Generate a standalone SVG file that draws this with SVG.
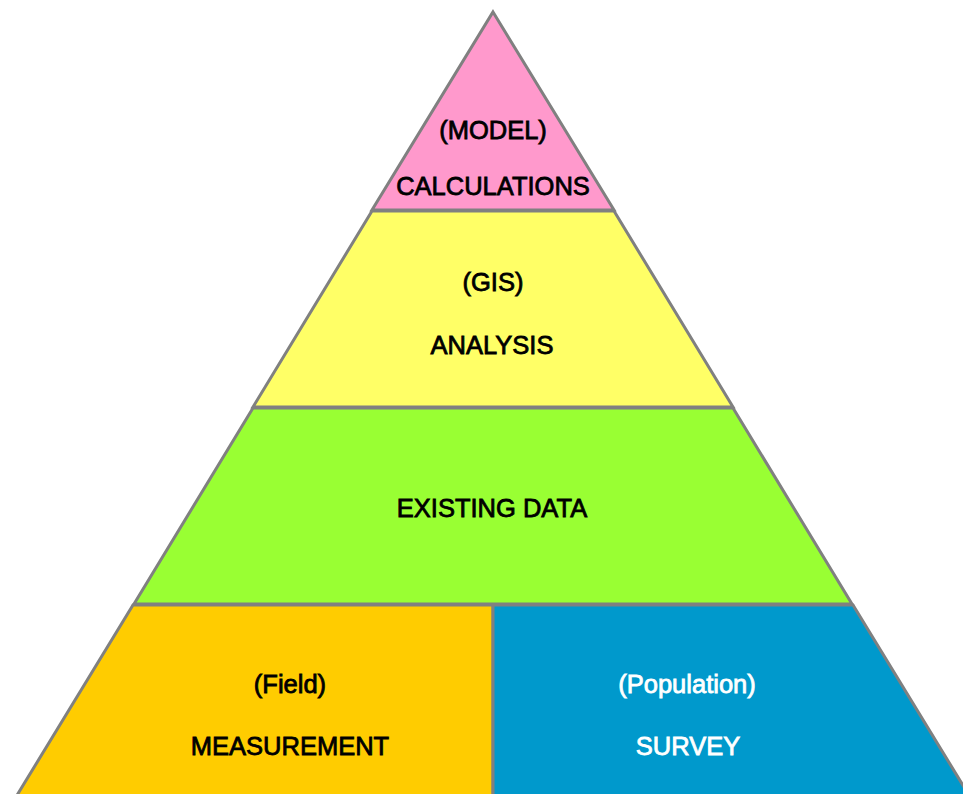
<svg xmlns="http://www.w3.org/2000/svg" width="963" height="794" viewBox="0 0 963 794">
<style>
.l{stroke:#808080;stroke-width:3;stroke-linejoin:miter}
.t{font-family:"Liberation Sans",Arial,sans-serif;font-size:25.5px;text-anchor:middle;fill:#000;stroke:#000;stroke-width:0.8}
.w{fill:#fff;stroke:#fff}
</style>
<rect width="963" height="794" fill="#fff"/>
<g id="model">
<polygon class="l" fill="#FF99CC" points="493,12 614,210 372,210"/>
<text class="t" x="493" y="139">(MODEL)</text>
<text class="t" x="493" y="195">CALCULATIONS</text>
</g>
<g id="gis">
<polygon class="l" fill="#FFFF66" points="372,211 614,211 733,407 253,407"/>
<text class="t" x="493" y="291">(GIS)</text>
<text class="t" x="492" y="354">ANALYSIS</text>
</g>
<g id="existing">
<polygon class="l" fill="#99FF33" points="253,408 733,408 852,604 134,604"/>
<text class="t" x="492" y="517">EXISTING DATA</text>
</g>
<g id="field">
<polygon class="l" fill="#FFCC00" points="133,605 493,605 493,810 8,810"/>
<text class="t" x="290" y="693">(Field)</text>
<text class="t" x="290" y="755">MEASUREMENT</text>
</g>
<g id="survey">
<polygon class="l" fill="#0099CC" points="493,605 853,605 978,810 493,810"/>
<text class="t w" x="687" y="693">(Population)</text>
<text class="t w" x="688" y="755">SURVEY</text>
</g>
<g id="connectors"/>
</svg>
